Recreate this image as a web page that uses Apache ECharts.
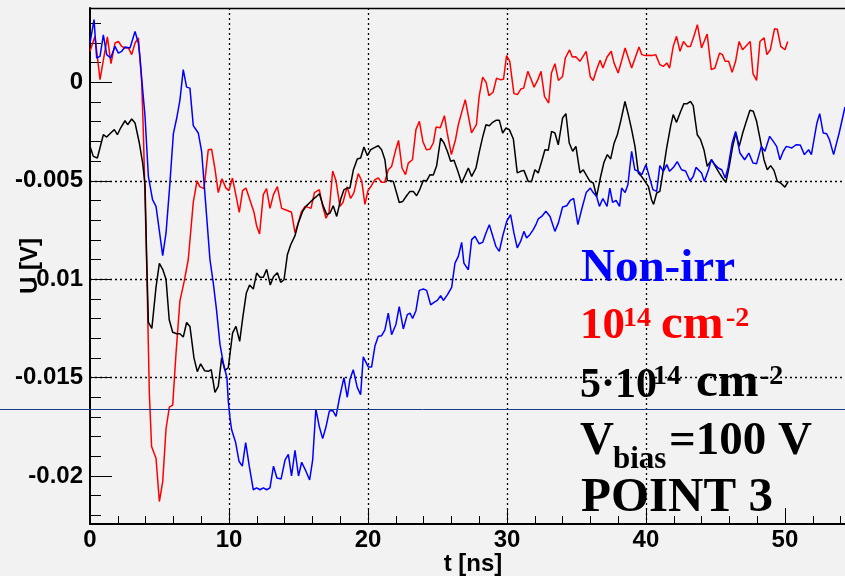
<!DOCTYPE html>
<html lang="en">
<head>
<meta charset="UTF-8">
<title>U(t)</title>
<script src="https://cdn.jsdelivr.net/npm/echarts@6.0.0/dist/echarts.min.js"></script>
<style>
  html, body { margin: 0; padding: 0; background: #f2f2f2; }
  #main { width: 845px; height: 576px; }
</style>
</head>
<body>
<div id="main"></div>
<script type="text/javascript">
// [t in ns, U in V]
var red = [
  [0, 0.00158], [0.36, 0.00234], [0.72, 0.00014], [1.25, 0.00231], [1.51, 0.00095], [1.8, 0.002], [2.04, 0.00208],
  [2.28, 0.00183], [2.52, 0.00175], [2.76, 0.00175], [3.0, 0.00141], [3.24, 0.002], [3.48, 0.00226], [3.72, 0.0],
  [3.84, -0.00256], [4.07, -0.009], [4.27, -0.0158], [4.43, -0.0185], [4.75, -0.0191], [4.99, -0.0213], [5.23, -0.0203],
  [5.47, -0.0176], [5.71, -0.0165], [5.95, -0.0164], [6.19, -0.01375], [6.47, -0.0111], [6.78, -0.0101], [7.07, -0.009],
  [7.43, -0.0061], [7.7, -0.005], [7.9, -0.0053], [8.2, -0.0054], [8.51, -0.00342], [8.75, -0.0034], [8.99, -0.0044],
  [9.23, -0.0056], [9.5, -0.0049], [9.77, -0.00536], [9.99, -0.0055], [10.25, -0.00486], [10.49, -0.0057], [10.74, -0.0066],
  [10.98, -0.0055], [11.22, -0.00537], [11.5, -0.00596], [11.8, -0.0066], [11.99, -0.0073], [12.2, -0.0077], [12.47, -0.0057],
  [12.7, -0.0054], [12.95, -0.0064], [13.2, -0.0057], [13.48, -0.0053], [13.79, -0.0064], [14.15, -0.0065], [14.5, -0.0066],
  [14.75, -0.00765], [15.0, -0.0071], [15.2, -0.0066], [15.47, -0.0063], [15.7, -0.00635], [15.9, -0.0064], [16.15, -0.0056],
  [16.5, -0.00545], [16.74, -0.0063], [16.98, -0.0069], [17.2, -0.0066], [17.46, -0.0045], [17.7, -0.005], [17.98, -0.0063],
  [18.2, -0.0061], [18.5, -0.0053], [18.75, -0.0059], [18.99, -0.0056], [19.3, -0.00464], [19.55, -0.005], [19.78, -0.0062],
  [20.0, -0.0055], [20.25, -0.00525], [20.5, -0.00494], [20.74, -0.00486], [20.98, -0.00508], [21.2, -0.00508], [21.46, -0.00444],
  [21.7, -0.00427], [22.0, -0.00342], [22.2, -0.00295], [22.45, -0.00435], [22.7, -0.00469], [22.9, -0.0041], [23.2, -0.00393],
  [23.45, -0.0024], [23.7, -0.00198], [23.95, -0.003], [24.2, -0.00342], [24.45, -0.0034], [24.7, -0.00308], [24.9, -0.00227],
  [25.2, -0.0023], [25.5, -0.00169], [25.7, -0.00257], [26.0, -0.00367], [26.3, -0.0029], [26.5, -0.00215], [26.75, -0.0015],
  [27.0, -0.00088], [27.45, -0.00257], [27.8, -0.00215], [28.0, -0.00071], [28.25, 0.00027], [28.5, 0.0], [28.7, -0.00067],
  [29.0, -0.0005], [29.25, 0.00022], [29.5, 0.00014], [29.75, 0.00016], [29.97, 0.00136], [30.2, 0.00107], [30.5, -0.00057],
  [30.75, -0.00062], [31.0, -0.00034], [31.2, -0.00029], [31.5, 0.00056], [31.7, 0.00022], [31.95, -0.00024], [32.2, 0.0001],
  [32.45, 0.00056], [32.7, -0.00071], [33.0, -0.00105], [33.2, 0.00048], [33.45, 0.00095], [33.7, 0.0001], [34.0, 0.0003],
  [34.2, 0.00124], [34.5, 0.00165], [34.7, 0.00129], [34.95, 0.0013], [35.25, 0.00107], [35.45, 0.0013], [35.7, 0.00158],
  [36.0, 0.00027], [36.2, 0.0001], [36.45, 0.00065], [36.7, 0.00112], [36.9, 0.00073], [37.2, 0.00129], [37.5, 0.00158],
  [37.7, 0.00099], [38.0, 0.00048], [38.25, 0.0011], [38.5, 0.00175], [38.75, 0.0012], [38.97, 0.00073], [39.25, 0.0013],
  [39.5, 0.0018], [39.7, 0.00141], [39.95, 0.00136], [40.2, 0.00138], [40.45, 0.00137], [40.7, 0.00141], [41.0, 0.0009],
  [41.25, 0.00081], [41.5, 0.00099], [41.7, 0.00073], [41.96, 0.00183], [42.2, 0.00234], [42.45, 0.00158], [42.7, 0.00208],
  [42.97, 0.00183], [43.2, 0.00183], [43.45, 0.00234], [43.7, 0.00293], [44.0, 0.00175], [44.2, 0.0021], [44.4, 0.00246],
  [44.7, 0.00065], [44.96, 0.00073], [45.3, 0.00149], [45.5, 0.00141], [45.7, 0.00107], [45.95, 0.00107], [46.2, 0.00051],
  [46.45, 0.00107], [46.7, 0.00208], [46.95, 0.00166], [47.2, 0.00185], [47.5, 0.00208], [47.7, 0.00044], [47.96, 0.0001],
  [48.2, 0.00208], [48.5, 0.00226], [48.7, 0.00141], [48.95, 0.00166], [49.25, 0.00273], [49.45, 0.0027], [49.7, 0.00183],
  [50.0, 0.00166], [50.2, 0.00208]
];

var blue = [
  [0, 0.002], [0.29, 0.00319], [0.48, 0.00124], [0.72, 0.00132], [0.96, 0.00242], [1.2, 0.00141], [1.49, 0.00124],
  [1.8, 0.00183], [2.04, 0.00149], [2.28, 0.00158], [2.52, 0.0018], [2.88, 0.00175], [3.24, 0.00259], [3.48, 0.002],
  [3.6, 0.00124], [3.78, -0.0003], [3.96, -0.00173], [4.2, -0.00478], [4.5, -0.00596], [4.75, -0.0063], [5.0, -0.0076],
  [5.23, -0.0088], [5.47, -0.00765], [5.72, -0.0054], [6.0, -0.0026], [6.24, -0.00181], [6.47, -0.0009], [6.71, 0.00065],
  [6.95, -0.00024], [7.19, -0.00029], [7.43, -0.0022], [7.79, -0.00257], [8.03, -0.0035], [8.3, -0.00596], [8.63, -0.009],
  [8.87, -0.0102], [9.1, -0.01155], [9.35, -0.0133], [9.6, -0.0143], [9.85, -0.015], [9.95, -0.0162], [10.07, -0.01705],
  [10.19, -0.01765], [10.48, -0.0183], [10.72, -0.01925], [10.96, -0.0195], [11.2, -0.0183], [11.46, -0.0195], [11.75, -0.0207],
  [11.99, -0.0206], [12.23, -0.0207], [12.47, -0.0206], [12.71, -0.0207], [12.95, -0.0206], [13.2, -0.0195], [13.45, -0.0201],
  [13.75, -0.02015], [14.03, -0.0192], [14.27, -0.0189], [14.5, -0.02], [14.75, -0.0187], [15.0, -0.02], [15.23, -0.0193],
  [15.5, -0.0197], [15.8, -0.0202], [16.02, -0.0192], [16.25, -0.0166], [16.5, -0.0175], [16.74, -0.0181], [16.98, -0.0175],
  [17.22, -0.0167], [17.46, -0.01667], [17.7, -0.01697], [17.96, -0.016], [18.27, -0.015], [18.51, -0.016], [18.7, -0.0151],
  [18.94, -0.0146], [19.23, -0.0155], [19.47, -0.01587], [19.66, -0.01395], [20.02, -0.01446], [20.26, -0.01446], [20.5, -0.0134],
  [20.74, -0.0129], [20.98, -0.01287], [21.22, -0.01257], [21.46, -0.01172], [21.7, -0.01282], [22.01, -0.0123], [22.25, -0.0114],
  [22.54, -0.01253], [22.83, -0.0118], [23.02, -0.01172], [23.21, -0.012], [23.45, -0.0116], [23.69, -0.01057], [23.98, -0.0105],
  [24.22, -0.01057], [24.51, -0.0113], [24.75, -0.01118], [24.99, -0.01108], [25.23, -0.01084], [25.42, -0.01108], [25.71, -0.0108],
  [26.02, -0.01042], [26.26, -0.00918], [26.5, -0.00884], [26.74, -0.00813], [26.9, -0.00918], [27.22, -0.00952], [27.46, -0.00799],
  [27.7, -0.00782], [28.0, -0.0082], [28.25, -0.00813], [28.49, -0.00765], [28.73, -0.00723], [28.97, -0.00779], [29.2, -0.00833],
  [29.45, -0.00859], [29.69, -0.00782], [29.98, -0.00706], [30.26, -0.00672], [30.5, -0.00765], [30.74, -0.00841], [30.98, -0.00808],
  [31.22, -0.00757], [31.41, -0.0079], [31.65, -0.00774], [31.89, -0.00748], [32.1, -0.0072], [32.25, -0.00694], [32.5, -0.00681],
  [32.8, -0.00655], [33.1, -0.00681], [33.45, -0.00757], [33.7, -0.00714], [34.0, -0.00633], [34.3, -0.00627], [34.55, -0.006],
  [34.8, -0.0059], [35.1, -0.00723], [35.4, -0.00638], [35.7, -0.0056], [36.0, -0.00537], [36.2, -0.0056], [36.45, -0.0058],
  [36.65, -0.0063], [36.9, -0.0059], [37.2, -0.0063], [37.4, -0.00537], [37.6, -0.0061], [37.85, -0.006], [38.1, -0.0063],
  [38.25, -0.00537], [38.5, -0.0056], [38.7, -0.0052], [38.97, -0.0035], [39.2, -0.00444], [39.45, -0.00452], [39.7, -0.00469],
  [40.0, -0.00418], [40.3, -0.00494], [40.5, -0.00545], [40.77, -0.00554], [41.0, -0.00423], [41.25, -0.00452], [41.5, -0.00418],
  [41.7, -0.00452], [42.0, -0.0043], [42.25, -0.00403], [42.56, -0.00444], [42.85, -0.0045], [43.17, -0.005], [43.4, -0.00478],
  [43.6, -0.00432], [44.0, -0.0046], [44.2, -0.00503], [44.5, -0.00444], [44.7, -0.00393], [44.96, -0.00418], [45.2, -0.00435],
  [45.45, -0.00444], [45.7, -0.00486], [45.9, -0.00435], [46.2, -0.00308], [46.45, -0.00249], [46.76, -0.00359], [47.1, -0.00393],
  [47.4, -0.00359], [47.7, -0.0041], [47.96, -0.00413], [48.3, -0.00325], [48.56, -0.0035], [48.9, -0.00274], [49.16, -0.003],
  [49.4, -0.00325], [49.64, -0.00393], [49.88, -0.0035], [50.1, -0.00325], [50.5, -0.00333], [50.8, -0.00317], [51.1, -0.00318],
  [51.4, -0.00367], [51.7, -0.00342], [51.9, -0.00367], [52.3, -0.00206], [52.5, -0.00159], [52.75, -0.00257], [53.0, -0.00261],
  [53.2, -0.00291], [53.5, -0.00367], [53.9, -0.00257], [54.32, -0.00125]
];

var black = [
  [0, -0.00325], [0.24, -0.00376], [0.53, -0.00384], [0.96, -0.00266], [1.2, -0.00278], [1.49, -0.00257], [1.75, -0.0024],
  [1.97, -0.00266], [2.2, -0.00232], [2.52, -0.00195], [2.71, -0.00215], [3.0, -0.00186], [3.24, -0.00206], [3.55, -0.00308],
  [3.79, -0.0041], [3.96, -0.0052], [4.08, -0.009], [4.2, -0.0122], [4.45, -0.0125], [4.75, -0.0104], [4.99, -0.0092],
  [5.23, -0.0095], [5.47, -0.01], [5.7, -0.01206], [5.95, -0.0127], [6.24, -0.01277], [6.47, -0.01277], [6.71, -0.01294],
  [6.95, -0.0122], [7.19, -0.0124], [7.48, -0.014], [7.72, -0.0147], [7.96, -0.0143], [8.24, -0.01465], [8.51, -0.01468],
  [8.72, -0.0146], [8.99, -0.01575], [9.23, -0.01545], [9.47, -0.014], [9.71, -0.01463], [9.95, -0.0145], [10.26, -0.01273],
  [10.5, -0.0124], [10.77, -0.01316], [11.0, -0.0119], [11.25, -0.0107], [11.48, -0.0103], [11.75, -0.0105], [11.99, -0.00969],
  [12.23, -0.0099], [12.47, -0.0099], [12.71, -0.0095], [12.97, -0.0103], [13.21, -0.00986], [13.48, -0.00967], [13.72, -0.01016],
  [13.96, -0.01003], [14.2, -0.00876], [14.44, -0.00825], [14.75, -0.00779], [14.99, -0.00714], [15.3, -0.00655], [15.54, -0.0063],
  [15.78, -0.00613], [16.02, -0.00596], [16.26, -0.00582], [16.5, -0.00566], [16.79, -0.0063], [17.03, -0.00672], [17.27, -0.00664],
  [17.5, -0.00627], [17.75, -0.00681], [18.04, -0.00593], [18.27, -0.00545], [18.51, -0.00537], [18.7, -0.00537], [18.94, -0.00447],
  [19.23, -0.00389], [19.47, -0.00384], [19.71, -0.00328], [19.95, -0.00372], [20.2, -0.00342], [20.43, -0.00333], [20.74, -0.00322],
  [20.98, -0.00342], [21.22, -0.00393], [21.39, -0.00498], [21.6, -0.005], [21.82, -0.00503], [22.06, -0.00562], [22.25, -0.0061],
  [22.5, -0.00605], [22.78, -0.00576], [23.02, -0.00554], [23.26, -0.00554], [23.5, -0.00576], [23.74, -0.00542], [23.98, -0.00498],
  [24.22, -0.005], [24.46, -0.00469], [24.7, -0.0047], [24.94, -0.00423], [25.23, -0.00283], [25.47, -0.00308], [25.71, -0.0035],
  [25.95, -0.00401], [26.19, -0.00396], [26.43, -0.00444], [26.74, -0.00511], [26.98, -0.00474], [27.22, -0.00435], [27.46, -0.00478],
  [27.77, -0.00435], [28.0, -0.00356], [28.25, -0.00278], [28.49, -0.00215], [28.73, -0.0022], [28.97, -0.00203], [29.21, -0.00193],
  [29.45, -0.00193], [29.69, -0.00257], [29.93, -0.00232], [30.17, -0.0024], [30.46, -0.00288], [30.74, -0.0046], [30.98, -0.00452],
  [31.22, -0.00447], [31.53, -0.00503], [31.77, -0.00503], [32.01, -0.00444], [32.25, -0.0046], [32.5, -0.00401], [32.73, -0.00342],
  [32.97, -0.00345], [33.21, -0.00249], [33.45, -0.00257], [33.69, -0.00317], [34.0, -0.00181], [34.24, -0.00159], [34.48, -0.00308],
  [34.73, -0.0035], [34.96, -0.00325], [35.25, -0.0046], [35.49, -0.00444], [35.73, -0.00474], [35.97, -0.00503], [36.21, -0.00511],
  [36.45, -0.0058], [36.74, -0.00478], [36.98, -0.00406], [37.22, -0.00367], [37.46, -0.00389], [37.7, -0.00311], [37.94, -0.00266],
  [38.18, -0.00198], [38.49, -0.00097], [38.73, -0.00164], [38.97, -0.0024], [39.21, -0.00325], [39.45, -0.0046], [39.69, -0.00478],
  [39.93, -0.00503], [40.17, -0.00528], [40.4, -0.00596], [40.55, -0.0062], [40.77, -0.00562], [41.0, -0.00554], [41.25, -0.00444],
  [41.49, -0.00333], [41.78, -0.0022], [41.96, -0.00164], [42.2, -0.00203], [42.5, -0.00147], [42.73, -0.00108], [42.97, -0.00108],
  [43.2, -0.00097], [43.4, -0.00118], [43.69, -0.00266], [43.93, -0.00291], [44.17, -0.00342], [44.41, -0.00427], [44.72, -0.00393],
  [44.96, -0.00423], [45.27, -0.0046], [45.51, -0.00486], [45.75, -0.00508], [45.99, -0.00427], [46.24, -0.00325], [46.47, -0.00257],
  [46.71, -0.00325], [46.96, -0.00257], [47.2, -0.00203], [47.48, -0.00142], [47.72, -0.00147], [47.96, -0.00198], [48.2, -0.00283],
  [48.49, -0.00393], [48.73, -0.00444], [48.97, -0.00423], [49.21, -0.00447], [49.45, -0.00503], [49.69, -0.00511], [50.0, -0.00532],
  [50.24, -0.00503]
];

// axis ticks
var xMajorTicks = [0, 10, 20, 30, 40, 50];
var xMinorTicks = [2, 4, 6, 8, 12, 14, 16, 18, 22, 24, 26, 28, 32, 34, 36, 38, 42, 44, 46, 48, 52, 54];
var yMajorTicks = [-0.02, -0.015, -0.01, -0.005, 0];
var yMinorTicks = [-0.022, -0.021, -0.019, -0.018, -0.017, -0.016, -0.014, -0.013, -0.012, -0.011,
                   -0.009, -0.008, -0.007, -0.006, -0.004, -0.003, -0.002, -0.001, 0.001, 0.002, 0.003];
var xRange = [0, 54.32];
var yRange = [-0.02244, 0.00378];

var myChart = echarts.init(document.getElementById('main'), null, { renderer: 'canvas' });

var labelFont = { color: '#000', fontFamily: 'Liberation Sans', fontWeight: 'bold', fontSize: 24 };
var dotted = { color: '#000', width: 1.3, type: [2, 3] };

// text placed by its baseline
function word(text, x, base, size, color) {
    return {
        type: 'text', x: x, y: base - 0.3375 * size, z: 100,
        style: {
            text: text, fill: color,
            font: 'bold ' + size + 'px "Liberation Serif"',
            textAlign: 'left', textVerticalAlign: 'middle', align: 'left', verticalAlign: 'middle'
        }
    };
}

var option = {
    animation: false,
    backgroundColor: '#f2f2f2',
    grid: { left: 90, right: 0, top: 8, bottom: 52, containLabel: false, outerBoundsMode: 'none' },
    xAxis: [
        {
            type: 'value', min: xRange[0], max: xRange[1], position: 'bottom',
            axisLine: { onZero: false, lineStyle: { color: '#000', width: 2 } },
            axisTick: { inside: true, length: 16, customValues: xMajorTicks, lineStyle: { color: '#000', width: 1 } },
            axisLabel: Object.assign({ customValues: xMajorTicks, margin: 4 }, labelFont),
            splitLine: { show: true, showMinLine: false, showMaxLine: false, lineStyle: dotted },
            name: 't [ns]', nameLocation: 'middle', nameGap: 28, nameMoveOverlap: false,
            nameTextStyle: Object.assign({ padding: [0, 0, 0, 11] }, labelFont)
        },
        {
            type: 'value', min: xRange[0], max: xRange[1], position: 'bottom',
            axisLine: { show: false, onZero: false },
            axisTick: { inside: true, length: 8, customValues: xMinorTicks, lineStyle: { color: '#000', width: 1 } },
            axisLabel: { show: false },
            splitLine: { show: false }
        }
    ],
    yAxis: [
        {
            type: 'value', min: yRange[0], max: yRange[1], position: 'left',
            axisLine: { onZero: false, lineStyle: { color: '#000', width: 2 } },
            axisTick: { inside: true, length: 22, customValues: yMajorTicks, lineStyle: { color: '#000', width: 1 } },
            axisLabel: Object.assign({ customValues: yMajorTicks, margin: 7, formatter: function (v) { return String(v); } }, labelFont),
            splitLine: { show: true, showMinLine: false, showMaxLine: false, lineStyle: dotted },
            name: 'U [V]', nameLocation: 'middle', nameGap: 48, nameRotate: 90, nameMoveOverlap: false,
            nameTextStyle: labelFont
        },
        {
            type: 'value', min: yRange[0], max: yRange[1], position: 'left',
            axisLine: { show: false, onZero: false },
            axisTick: { inside: true, length: 11, customValues: yMinorTicks, lineStyle: { color: '#000', width: 1 } },
            axisLabel: { show: false },
            splitLine: { show: false }
        }
    ],
    series: [
        { name: '1e14', type: 'line', data: red, showSymbol: false, symbol: 'none', lineStyle: { color: '#ff0000', width: 1.5 }, itemStyle: { color: '#ff0000' } },
        { name: '5e14', type: 'line', data: black, showSymbol: false, symbol: 'none', lineStyle: { color: '#000000', width: 1.5 }, itemStyle: { color: '#000000' } },
        { name: 'non-irr', type: 'line', data: blue, showSymbol: false, symbol: 'none', lineStyle: { color: '#0000ff', width: 1.5 }, itemStyle: { color: '#0000ff' } }
    ],
    graphic: [
        // frame top and the stray line across the picture
        { type: 'line', z: 90, shape: { x1: 90, y1: 8.5, x2: 845, y2: 8.5 }, style: { stroke: '#000', lineWidth: 1.5 } },
        { type: 'line', z: 90, shape: { x1: 0, y1: 409.5, x2: 845, y2: 409.5 }, style: { stroke: '#1a3b8c', lineWidth: 1 } },
        word('Non-irr', 581, 285, 47, '#0000ff'),
        word('10', 580, 342, 45, '#ff0000'),
        word('14', 623, 328, 28, '#ff0000'),
        word('cm', 661, 342, 49, '#ff0000'),
        word('-2', 726, 328, 28, '#ff0000'),
        word('5\u00b710', 580, 400, 42, '#000'),
        word('14', 653, 386, 28, '#000'),
        word('cm', 696, 400, 49, '#000'),
        word('-2', 760, 386, 28, '#000'),
        word('V', 580, 458, 47, '#000'),
        word('bias', 613, 470, 31, '#000'),
        word('=100 V', 669, 458, 47, '#000'),
        word('POINT 3', 581, 515, 49, '#000')
    ]
};

myChart.setOption(option);
</script>
</body>
</html>
